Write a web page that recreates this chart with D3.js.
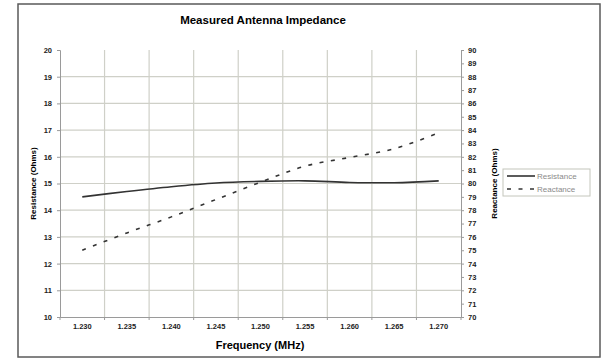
<!DOCTYPE html>
<html>
<head>
<meta charset="utf-8">
<script src="https://cdn.jsdelivr.net/npm/d3@7"></script>
<style>
  body { margin: 0; background: #fff; }
  text { font-family: "Liberation Sans", Arial, sans-serif; }
</style>
</head>
<body>
<div id="chart"></div>
<script>
// data
const frequencies = ["1.230", "1.235", "1.240", "1.245", "1.250", "1.255", "1.260", "1.265", "1.270"];
const resistance = [14.5, 14.7, 14.88, 15.02, 15.08, 15.1, 15.04, 15.03, 15.1];
const reactance = [75.0, 76.3, 77.5, 78.8, 80.1, 81.3, 81.95, 82.6, 83.8];
const leftTicks = [10, 11, 12, 13, 14, 15, 16, 17, 18, 19, 20];
const rightTicks = [70, 71, 72, 73, 74, 75, 76, 77, 78, 79, 80, 81, 82, 83, 84, 85, 86, 87, 88, 89, 90];

const width = 606, height = 360;
const plot = { left: 60, right: 461, top: 50, bottom: 317 };

const svg = d3.select("#chart")
  .append("svg")
  .attr("width", width)
  .attr("height", height);

// outer frame
svg.append("rect")
  .attr("x", 18).attr("y", 4)
  .attr("width", 582).attr("height", 353)
  .attr("fill", "none")
  .attr("stroke", "#5a5a5a")
  .attr("stroke-width", 1.5);

const xScale = d3.scaleBand()
  .domain(frequencies)
  .range([plot.left, plot.right]);

const yLeft = d3.scaleLinear()
  .domain([10, 20])
  .range([plot.bottom, plot.top]);

const yRight = d3.scaleLinear()
  .domain([70, 90])
  .range([plot.bottom, plot.top]);

// gridlines
const grid = svg.append("g")
  .attr("stroke", "#cfd0c8")
  .attr("stroke-width", 1.2);

grid.selectAll("line.h")
  .data(leftTicks.slice(1, -1))
  .enter()
  .append("line")
  .attr("x1", plot.left).attr("x2", plot.right)
  .attr("y1", d => yLeft(d)).attr("y2", d => yLeft(d));

const bounds = frequencies.map(f => xScale(f)).concat([xScale.range()[1]]);
grid.selectAll("line.v")
  .data(bounds.slice(1, -1))
  .enter()
  .append("line")
  .attr("x1", d => d).attr("x2", d => d)
  .attr("y1", plot.top).attr("y2", plot.bottom);

// Left axis
const leftAxis = svg.append("g")
  .attr("transform", "translate(" + plot.left + ",0)")
  .call(d3.axisLeft(yLeft).tickValues(leftTicks).tickSize(3).tickPadding(5));
leftAxis.selectAll("text")
  .style("font-size", "7.5px")
  .style("font-weight", "bold")
  .attr("fill", "#222");

// Right axis
const rightAxis = svg.append("g")
  .attr("transform", "translate(" + plot.right + ",0)")
  .call(d3.axisRight(yRight).tickValues(rightTicks).tickSize(3).tickPadding(4));
rightAxis.selectAll("text")
  .style("font-size", "7.5px")
  .style("font-weight", "bold")
  .attr("fill", "#222");

// Bottom axis
const bottomAxis = svg.append("g")
  .attr("transform", "translate(0," + plot.bottom + ")")
  .call(d3.axisBottom(xScale).tickSize(0).tickPadding(7));
bottomAxis.selectAll("text")
  .style("font-size", "7.5px")
  .style("font-weight", "bold")
  .attr("fill", "#222");

bottomAxis.selectAll("line.tk")
  .data(bounds)
  .enter()
  .append("line")
  .attr("x1", d => d).attr("x2", d => d)
  .attr("y1", 0).attr("y2", 3);

svg.selectAll(".domain").attr("stroke", "#9a9a9a");
svg.selectAll(".tick line").attr("stroke", "#9a9a9a");
bottomAxis.selectAll("line").attr("stroke", "#9a9a9a");

// Titles
svg.append("text")
  .attr("x", 263).attr("y", 24)
  .attr("text-anchor", "middle")
  .style("font-size", "11.5px")
  .style("font-weight", "bold")
  .text("Measured Antenna Impedance");

svg.append("text")
  .attr("x", 260).attr("y", 349)
  .attr("text-anchor", "middle")
  .style("font-size", "11px")
  .style("font-weight", "bold")
  .text("Frequency (MHz)");

svg.append("text")
  .attr("transform", "translate(36," + ((plot.top + plot.bottom) / 2) + ")rotate(-90)")
  .attr("text-anchor", "middle")
  .style("font-size", "8px")
  .style("font-weight", "bold")
  .text("Resistance (Ohms)");

svg.append("text")
  .attr("transform", "translate(497," + ((plot.top + plot.bottom) / 2) + ")rotate(-90)")
  .attr("text-anchor", "middle")
  .style("font-size", "8px")
  .style("font-weight", "bold")
  .text("Reactance (Ohms)");

// Lines
const cx = f => xScale(f) + xScale.bandwidth() / 2;

const resLine = d3.line()
  .x((d, i) => cx(frequencies[i]))
  .y(d => yLeft(d))
  .curve(d3.curveCatmullRom.alpha(0.5));

const reaLine = d3.line()
  .x((d, i) => cx(frequencies[i]))
  .y(d => yRight(d))
  .curve(d3.curveCatmullRom.alpha(0.5));

svg.append("path")
  .datum(resistance)
  .attr("fill", "none")
  .attr("stroke", "#333")
  .attr("stroke-width", 1.6)
  .attr("d", resLine);

svg.append("path")
  .datum(reactance)
  .attr("fill", "none")
  .attr("stroke", "#333")
  .attr("stroke-width", 1.6)
  .attr("stroke-dasharray", "4,7.5")
  .attr("d", reaLine);

// Legend
const legend = svg.append("g").attr("transform", "translate(503,169)");
legend.append("rect")
  .attr("width", 87).attr("height", 27)
  .attr("fill", "#fff")
  .attr("stroke", "#c4c6bc")
  .attr("stroke-width", 1);

const items = [
  { name: "Resistance", dash: null, y: 7 },
  { name: "Reactance", dash: "4,7.5", y: 20 }
];
items.forEach(it => {
  legend.append("line")
    .attr("x1", 4).attr("x2", 32)
    .attr("y1", it.y).attr("y2", it.y)
    .attr("stroke", "#333")
    .attr("stroke-width", 1.6)
    .attr("stroke-dasharray", it.dash);
  legend.append("text")
    .attr("x", 34).attr("y", it.y + 3)
    .style("font-size", "8px")
    .attr("fill", "#8a8a8a")
    .text(it.name);
});
</script>
</body>
</html>
